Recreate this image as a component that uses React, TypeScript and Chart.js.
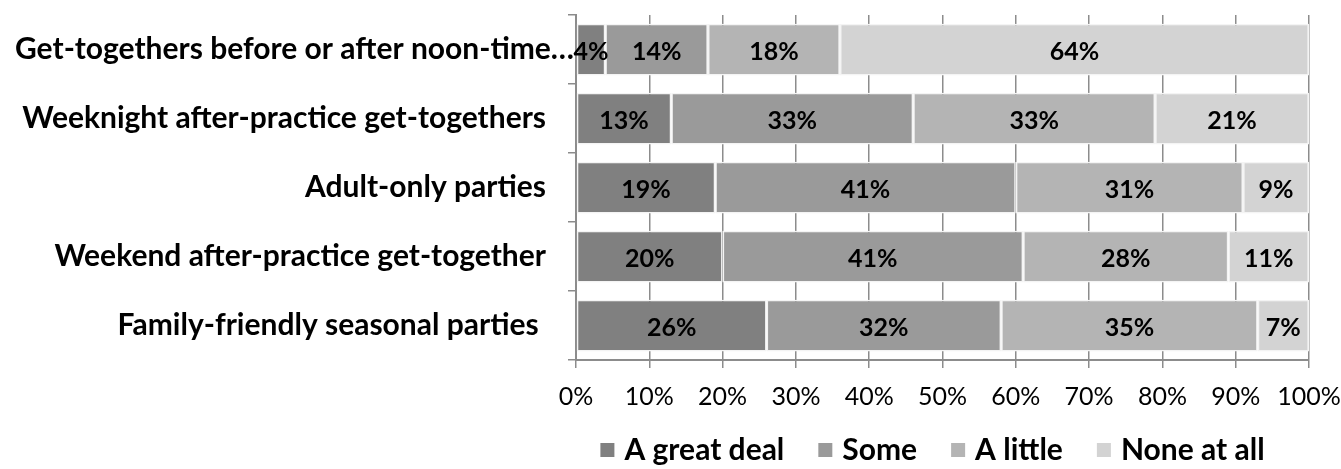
import React, { useEffect, useRef } from "react";
import { Chart, registerables } from "chart.js";

Chart.register(...registerables);

const categories = [
  "Get-togethers before or after noon-time…",
  "Weeknight after-practice get-togethers",
  "Adult-only parties",
  "Weekend after-practice get-together",
  "Family-friendly seasonal parties ",
];
const seriesNames = ["A great deal", "Some", "A little", "None at all"];
const greatDeal = [4, 13, 19, 20, 26];
const some = [14, 33, 41, 41, 32];
const aLittle = [18, 33, 31, 28, 35];
const noneAtAll = [64, 21, 9, 11, 7];
const seriesColors = ["#808080", "#9a9a9a", "#b4b4b4", "#d3d3d3"];
const xTickValues = [0, 10, 20, 30, 40, 50, 60, 70, 80, 90, 100];

const FONT = "Lato, Carlito, 'Open Sans', sans-serif";
const AXIS_GRAY = "#8c8c8c";

const customPlugin = {
  id: "customLabels",
  afterDatasetsDraw(chart: any) {
    const ctx = chart.ctx;
    ctx.save();
    ctx.font = `bold 25px ${FONT}`;
    ctx.fillStyle = "#000";
    ctx.textAlign = "center";
    ctx.textBaseline = "middle";
    chart.data.datasets.forEach((ds: any, di: number) => {
      const meta = chart.getDatasetMeta(di);
      meta.data.forEach((el: any, i: number) => {
        const p = el.getProps(["x", "base", "y"], true);
        ctx.fillText(ds.data[i] + "%", (p.x + p.base) / 2, p.y + 2);
      });
    });
    ctx.restore();
  },
  afterDraw(chart: any) {
    const ctx = chart.ctx;
    const area = chart.chartArea;
    const yScale = chart.scales.y;
    ctx.save();
    // category labels
    ctx.font = `bold 30px ${FONT}`;
    ctx.fillStyle = "#000";
    ctx.textAlign = "left";
    ctx.textBaseline = "middle";
    categories.forEach((c, i) => {
      const w = ctx.measureText(c).width;
      let xl = area.left - 30 - w;
      if (xl < 15) xl = 15;
      ctx.fillText(c, xl, yScale.getPixelForValue(i));
    });
    // legend
    ctx.font = `bold 30px ${FONT}`;
    const box = 14;
    const gapBoxText = 10;
    const gapItems = 34;
    const widths = seriesNames.map((n) => ctx.measureText(n).width);
    const total =
      widths.reduce((a, b) => a + b, 0) +
      seriesNames.length * (box + gapBoxText) +
      (seriesNames.length - 1) * gapItems;
    let x = (area.left + area.right) / 2 - 10 - total / 2;
    const yc = 450;
    seriesNames.forEach((n, i) => {
      ctx.fillStyle = seriesColors[i];
      ctx.fillRect(x, yc - box / 2, box, box);
      x += box + gapBoxText;
      ctx.fillStyle = "#000";
      ctx.fillText(n, x, yc);
      x += widths[i] + gapItems;
    });
    ctx.restore();
  },
};

export default function App() {
  const ref = useRef<HTMLCanvasElement | null>(null);
  useEffect(() => {
    if (!ref.current) return;
    const seriesData = [greatDeal, some, aLittle, noneAtAll];
    const chart = new Chart(ref.current, {
      type: "bar",
      data: {
        labels: categories,
        datasets: seriesNames.map((name, i) => ({
          label: name,
          data: seriesData[i],
          backgroundColor: seriesColors[i],
          borderColor: "#f4f4f4",
          borderWidth: 1.5,
          borderSkipped: false,
          barPercentage: 0.75,
          categoryPercentage: 1,
        })),
      },
      options: {
        indexAxis: "y",
        responsive: false,
        animation: false,
        layout: { padding: { left: 536, right: 32, top: 15, bottom: 0 } },
        plugins: {
          legend: { display: false },
          tooltip: { enabled: false },
        },
        scales: {
          x: {
            stacked: true,
            min: 0,
            max: 100,
            afterBuildTicks: (scale: any) => {
              scale.ticks = xTickValues.map((v) => ({ value: v }));
            },
            afterFit: (scale: any) => {
              scale.height = 109;
              scale.paddingLeft = 0;
              scale.paddingRight = 0;
            },
            ticks: {
              color: "#000",
              font: { family: FONT, size: 25 },
              padding: 14,
              maxRotation: 0,
              autoSkip: false,
              callback: (v: any) => v + "%",
            },
            grid: {
              color: AXIS_GRAY,
              lineWidth: 1.5,
              drawOnChartArea: true,
              drawTicks: true,
              tickLength: 8,
            },
            border: { display: true, color: AXIS_GRAY, width: 2 },
          },
          y: {
            stacked: true,
            afterFit: (scale: any) => {
              scale.width = 40;
              scale.paddingTop = 0;
              scale.paddingBottom = 0;
            },
            ticks: { display: false },
            grid: {
              offset: true,
              color: AXIS_GRAY,
              lineWidth: 1.5,
              drawOnChartArea: false,
              drawTicks: true,
              tickLength: 8,
            },
            border: { display: true, color: AXIS_GRAY, width: 2 },
          },
        },
      },
      plugins: [customPlugin],
    });
    return () => chart.destroy();
  }, []);
  return (
    <div style={{ position: "absolute", left: 0, top: 0, width: 1341, height: 469, background: "#fff" }}>
      <canvas ref={ref} width={1341} height={469} style={{ display: "block" }} />
    </div>
  );
}
